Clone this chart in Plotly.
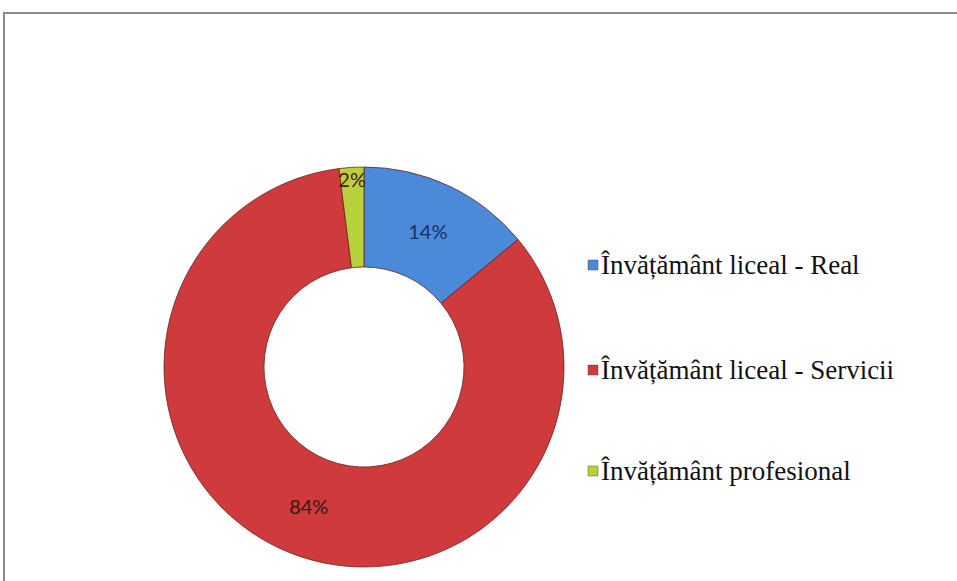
import plotly.graph_objects as go

# === DATE ===
labels = ["Învățământ liceal - Real", "Învățământ liceal - Servicii", "Învățământ profesional"]
values = [14, 84, 2]
colors = ["#4a8ad8", "#cf3a3d", "#b9cf3c"]
text_colors = ["#1c2f63", "#3d1518", "#4a1a1a"]

W, H = 957, 581

fig = go.Figure()

fig.add_trace(go.Pie(
    labels=labels,
    values=values,
    hole=0.5,
    sort=False,
    direction="clockwise",
    rotation=0,
    marker=dict(colors=colors, line=dict(color="rgba(90,30,30,0.75)", width=1)),
    textinfo="percent",
    texttemplate="%{percent:.0%}",
    textposition="inside",
    insidetextorientation="horizontal",
    textfont=dict(family="Lato", size=20, color=text_colors),
    domain=dict(x=[164 / W, 564 / W], y=[14 / H, 414 / H]),
    showlegend=False,
))

# legenda desenata manual (spatiere mare intre intrari)
leg_y = [265, 370, 471]
for lab, col, yy in zip(labels, colors, leg_y):
    fig.add_shape(type="rect", xref="paper", yref="paper",
                  x0=588 / W, x1=598 / W, y0=1 - (yy + 5) / H, y1=1 - (yy - 5) / H,
                  fillcolor=col, line=dict(color="rgba(60,60,60,0.4)", width=1))
    fig.add_annotation(x=599 / W, y=1 - yy / H, xref="paper", yref="paper",
                       text=lab, showarrow=False, xanchor="left", yanchor="middle",
                       font=dict(family="'Liberation Serif', 'Times New Roman', serif",
                                 size=27, color="#111111"))

# chenarul graficului
fig.add_shape(type="rect", xref="paper", yref="paper",
              x0=4 / W, x1=1.02, y0=-0.02, y1=1 - 13 / H,
              line=dict(color="#8c8c8c", width=2))

fig.update_layout(
    width=W,
    height=H,
    margin=dict(l=0, r=0, t=0, b=0),
    paper_bgcolor="white",
    plot_bgcolor="white",
    uniformtext=dict(minsize=20, mode="show"),
)

fig.write_html("out.html", config={"displayModeBar": False},
               post_script="document.body.style.margin='0';")
